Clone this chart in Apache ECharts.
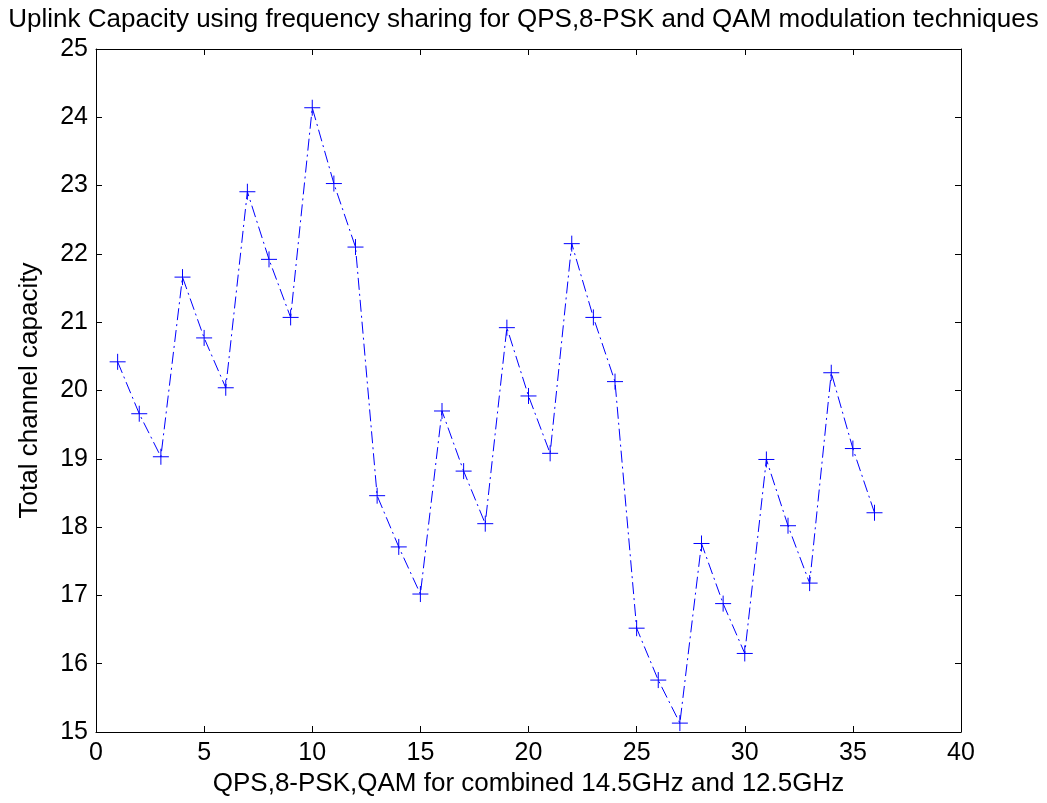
<!DOCTYPE html>
<html>
<head>
<meta charset="utf-8">
<script src="https://cdn.jsdelivr.net/npm/echarts@6/dist/echarts.min.js"></script>
<style>
  html, body { margin: 0; padding: 0; background: #fff; }
  #chart { width: 1047px; height: 803px; }
</style>
</head>
<body>
<div id="chart"></div>
<script>
  // channel index 1..36
  const xValues = [1, 2, 3, 4, 5, 6, 7, 8, 9, 10, 11, 12, 13, 14, 15, 16, 17, 18,
    19, 20, 21, 22, 23, 24, 25, 26, 27, 28, 29, 30, 31, 32, 33, 34, 35, 36]
  // total channel capacity
  const capacity = [20.42, 19.66, 19.03, 21.66, 20.77, 20.04, 22.91, 21.92, 21.07, 24.14,
    23.03, 22.10, 18.46, 17.71, 17.02, 19.70, 18.82, 18.05, 20.92, 19.92,
    19.08, 22.15, 21.07, 20.13, 16.52, 15.76, 15.13, 17.76, 16.88, 16.15,
    18.99, 18.02, 17.18, 20.26, 19.15, 18.21]
  const xTicks = { min: 0, max: 40, interval: 5 }
  const yTicks = { min: 15, max: 25, interval: 1 }

  const font = '"Liberation Sans", Arial, sans-serif'
  const axisColor = '#000'

  const myChart = echarts.init(document.getElementById('chart'))

  // MATLAB-like box: ticks inside on all four sides
  const boxAxis = (extra) => Object.assign({
    type: 'value',
    axisLine: { show: true, onZero: false, lineStyle: { color: axisColor, width: 1 } },
    axisTick: { show: true, inside: true, length: 6, lineStyle: { color: axisColor } },
    splitLine: { show: false },
  }, extra)

  const option = {
    animation: false,
    backgroundColor: '#fff',
    title: {
      text: 'Uplink Capacity using frequency sharing for QPS,8-PSK and QAM modulation techniques',
      left: 'center',
      top: 2,
      textStyle: { fontFamily: font, fontSize: 26, fontWeight: 'normal', color: '#000' },
    },
    grid: { left: 96, right: 86, top: 49, bottom: 71, outerBoundsMode: 'none' },
    xAxis: [
      boxAxis({
        position: 'bottom',
        min: xTicks.min, max: xTicks.max, interval: xTicks.interval,
        name: 'QPS,8-PSK,QAM for combined 14.5GHz and 12.5GHz',
        nameLocation: 'middle',
        nameGap: 37,
        nameTextStyle: { fontFamily: font, fontSize: 26, color: '#000' },
        axisLabel: { fontFamily: font, fontSize: 25, color: '#000', margin: 9 },
      }),
      boxAxis({
        position: 'top',
        min: xTicks.min, max: xTicks.max, interval: xTicks.interval,
        axisLabel: { show: false },
      }),
    ],
    yAxis: [
      boxAxis({
        position: 'left',
        min: yTicks.min, max: yTicks.max, interval: yTicks.interval,
        name: 'Total channel capacity',
        nameLocation: 'middle',
        nameGap: 53,
        nameTextStyle: { fontFamily: font, fontSize: 26, color: '#000' },
        axisLabel: { fontFamily: font, fontSize: 25, color: '#000', margin: 8 },
      }),
      boxAxis({
        position: 'right',
        min: yTicks.min, max: yTicks.max, interval: yTicks.interval,
        axisLabel: { show: false },
      }),
    ],
    series: [
      {
        type: 'line',
        data: xValues.map((x, i) => [x, capacity[i]]),
        symbol: 'path://M0,8 L16,8 M8,0 L8,16',
        symbolSize: 16,
        itemStyle: { color: 'rgba(0,0,0,0)', borderColor: '#0000ff', borderWidth: 1 },
        lineStyle: { color: '#0000ff', width: 1, type: [12, 4, 2, 4] },
      },
    ],
  }

  myChart.setOption(option)
</script>
</body>
</html>
